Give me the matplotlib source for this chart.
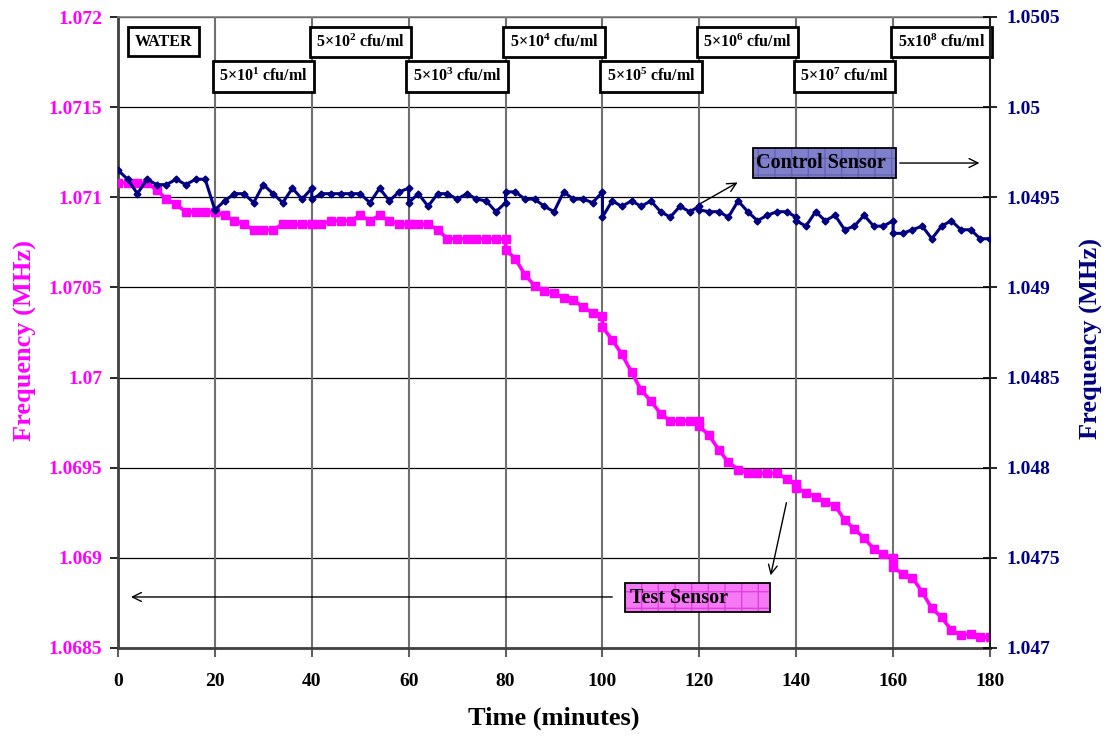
import matplotlib
matplotlib.use("Agg")
import matplotlib.pyplot as plt
from matplotlib.ticker import FuncFormatter, MultipleLocator
from matplotlib.patches import Rectangle

plt.rcParams['font.family'] = ['Liberation Serif', 'DejaVu Serif']
plt.rcParams['font.weight'] = 'bold'
plt.rcParams['mathtext.fontset'] = 'custom'
plt.rcParams['mathtext.rm'] = 'Liberation Serif:bold'
plt.rcParams['mathtext.it'] = 'Liberation Serif:bold'
plt.rcParams['mathtext.bf'] = 'Liberation Serif:bold'

# ---- data: each exposure segment sampled every 2 minutes (start .. start+20) ----
segment_starts = [0, 20, 40, 60, 80, 100, 120, 140, 160]
segment_offsets = [0, 2, 4, 6, 8, 10, 12, 14, 16, 18, 20]

test_sensor = [
    [1.07108, 1.07108, 1.07108, 1.07108, 1.07104, 1.07099, 1.07096, 1.07092, 1.07092, 1.07092, 1.07092],
    [1.07092, 1.07090, 1.07087, 1.07085, 1.07082, 1.07082, 1.07082, 1.07085, 1.07085, 1.07085, 1.07085],
    [1.07085, 1.07085, 1.07087, 1.07087, 1.07087, 1.07090, 1.07087, 1.07090, 1.07087, 1.07085, 1.07085],
    [1.07085, 1.07085, 1.07085, 1.07082, 1.07077, 1.07077, 1.07077, 1.07077, 1.07077, 1.07077, 1.07077],
    [1.07071, 1.07066, 1.07057, 1.07051, 1.07048, 1.07047, 1.07044, 1.07043, 1.07039, 1.07036, 1.07034],
    [1.07028, 1.07021, 1.07013, 1.07003, 1.06993, 1.06987, 1.06980, 1.06976, 1.06976, 1.06976, 1.06976],
    [1.06973, 1.06968, 1.06960, 1.06953, 1.06949, 1.06947, 1.06947, 1.06947, 1.06947, 1.06944, 1.06941],
    [1.06939, 1.06936, 1.06934, 1.06931, 1.06929, 1.06921, 1.06916, 1.06911, 1.06905, 1.06902, 1.06900],
    [1.06895, 1.06891, 1.06889, 1.06881, 1.06872, 1.06867, 1.06860, 1.06857, 1.06858, 1.06856, 1.06856],
]

control_sensor = [
    [1.04965, 1.04960, 1.04952, 1.04960, 1.04957, 1.04957, 1.04960, 1.04957, 1.04960, 1.04960, 1.04943],
    [1.04943, 1.04948, 1.04952, 1.04952, 1.04947, 1.04957, 1.04952, 1.04947, 1.04955, 1.04949, 1.04955],
    [1.04949, 1.04952, 1.04952, 1.04952, 1.04952, 1.04952, 1.04947, 1.04955, 1.04948, 1.04953, 1.04955],
    [1.04947, 1.04952, 1.04945, 1.04952, 1.04952, 1.04949, 1.04952, 1.04949, 1.04948, 1.04942, 1.04947],
    [1.04953, 1.04953, 1.04949, 1.04949, 1.04945, 1.04942, 1.04953, 1.04949, 1.04949, 1.04947, 1.04953],
    [1.04939, 1.04948, 1.04945, 1.04948, 1.04945, 1.04948, 1.04942, 1.04939, 1.04945, 1.04942, 1.04945],
    [1.04943, 1.04942, 1.04942, 1.04939, 1.04948, 1.04942, 1.04937, 1.04940, 1.04942, 1.04942, 1.04939],
    [1.04937, 1.04934, 1.04942, 1.04937, 1.04940, 1.04932, 1.04934, 1.04940, 1.04934, 1.04934, 1.04937],
    [1.04930, 1.04930, 1.04932, 1.04934, 1.04927, 1.04934, 1.04937, 1.04932, 1.04932, 1.04927, 1.04927],
]

stage_labels = ["WATER",
                r"5×10$^{1}$ cfu/ml", r"5×10$^{2}$ cfu/ml", r"5×10$^{3}$ cfu/ml",
                r"5×10$^{4}$ cfu/ml", r"5×10$^{5}$ cfu/ml", r"5×10$^{6}$ cfu/ml",
                r"5×10$^{7}$ cfu/ml", r"5x10$^{8}$ cfu/ml"]

x_ticks = [0, 20, 40, 60, 80, 100, 120, 140, 160, 180]

PINK = '#FF00FF'
NAVY = '#000080'

t_all = [s + o for s in segment_starts for o in segment_offsets]
test_all = [v for seg in test_sensor for v in seg]
ctrl_all = [v for seg in control_sensor for v in seg]

fig = plt.figure(figsize=(11.06, 7.36), dpi=100)
ax = fig.add_axes([118/1106, 1-648/736, (990-118)/1106, (648-17)/736])
ax2 = ax.twinx()

fmt = FuncFormatter(lambda v, p: f"{v:.4f}".rstrip('0').rstrip('.'))

ax.set_xlim(0, 180)
ax.set_ylim(1.0685, 1.072)
ax2.set_ylim(1.047, 1.0505)
ax.yaxis.set_major_locator(MultipleLocator(0.0005))
ax2.yaxis.set_major_locator(MultipleLocator(0.0005))
ax.set_xticks(x_ticks)
ax.yaxis.set_major_formatter(fmt)
ax2.yaxis.set_major_formatter(fmt)

# grid
for t in x_ticks[1:-1]:
    ax.axvline(t, color='#707070', lw=1.5, zorder=1)
ax.yaxis.grid(True, color='black', lw=0.9, zorder=1)
ax.set_axisbelow(True)

ax.plot(t_all, test_all, color=PINK, lw=2.6, marker='s', ms=5.5, zorder=3)
ax2.plot(t_all, ctrl_all, color=NAVY, lw=2.2, marker='D', ms=3.5, zorder=3)

# spines
for sp in ['left', 'bottom']:
    ax.spines[sp].set_color('#404040'); ax.spines[sp].set_linewidth(2)
ax.spines['top'].set_color('#808080'); ax.spines['top'].set_linewidth(1.2)
ax2.spines['top'].set_visible(False)
ax2.spines['left'].set_visible(False)
ax2.spines['bottom'].set_visible(False)
ax2.spines['right'].set_color('#202020'); ax2.spines['right'].set_linewidth(1.5)
ax.spines['right'].set_visible(False)

ax.tick_params(axis='y', colors=PINK, labelsize=14, length=5.8, width=1.2, pad=5.5)
ax.tick_params(axis='y', color='black')
ax.tick_params(axis='x', labelsize=14, length=6.5, width=1.5, color='#606060', pad=11.5)
ax2.tick_params(axis='y', colors=NAVY, labelsize=14, length=10, width=1.2, direction='inout', pad=7)
ax2.tick_params(axis='y', color='black')
for lab in ax.get_yticklabels() + ax.get_xticklabels() + ax2.get_yticklabels():
    lab.set_fontweight('bold')

ax.set_ylabel("Frequency (MHz)", color=PINK, fontsize=19, fontweight='bold', labelpad=8.5)
ax2.set_ylabel("Frequency (MHz)", color=NAVY, fontsize=19, fontweight='bold', labelpad=14)
ax.yaxis.label.set_y(0.488)
ax2.yaxis.label.set_y(0.49)
ax.set_xlabel("Time (minutes)", fontsize=19, fontweight='bold', labelpad=12)

# stage labels
row_top = 1.071862
row_bot = 1.07167
for i, lab in enumerate(stage_labels):
    x = segment_starts[i] + 10
    y = row_top if i % 2 == 0 else row_bot
    if i == 0:
        x = 9.4
    ax.text(x, y, lab, ha='center', va='center', fontsize=11.5, fontweight='bold', zorder=6,
            bbox=dict(boxstyle='square,pad=0.4', fc='white', ec='black', lw=2))


def callout_box(x0, x1, y0, y1, face, hatch_col, text, tx, ty):
    ax.add_patch(Rectangle((x0, y0), x1 - x0, y1 - y0, facecolor=face, edgecolor=hatch_col,
                           hatch='+', lw=0, zorder=5))
    ax.add_patch(Rectangle((x0, y0), x1 - x0, y1 - y0, facecolor='none', edgecolor='black',
                           lw=1.3, zorder=6))
    ax.text(tx, ty, text, ha='left', va='center', fontsize=14.5, fontweight='bold', zorder=7)


arrow = dict(arrowstyle='->', color='black', lw=1, mutation_scale=16)
callout_box(131.1, 160.6, 1.071107, 1.071273, '#7f7fcc', '#6464b4', "Control Sensor", 131.7, 1.07119)
ax.annotate("", xy=(128.4, 1.07109), xytext=(119.7, 1.070957), arrowprops=arrow, zorder=6)
ax.annotate("", xy=(178.4, 1.07119), xytext=(160.8, 1.07119), arrowprops=arrow, zorder=6)

callout_box(104.7, 134.6, 1.068700, 1.068860, '#f578f5', '#e040e0', "Test Sensor", 105.7, 1.06878)
ax.annotate("", xy=(134.6, 1.068888), xytext=(138.1, 1.069321), arrowprops=arrow, zorder=6)
ax.annotate("", xy=(2.1, 1.068783), xytext=(102.6, 1.068783), arrowprops=arrow, zorder=6)

fig.savefig("out.png", dpi=100)
